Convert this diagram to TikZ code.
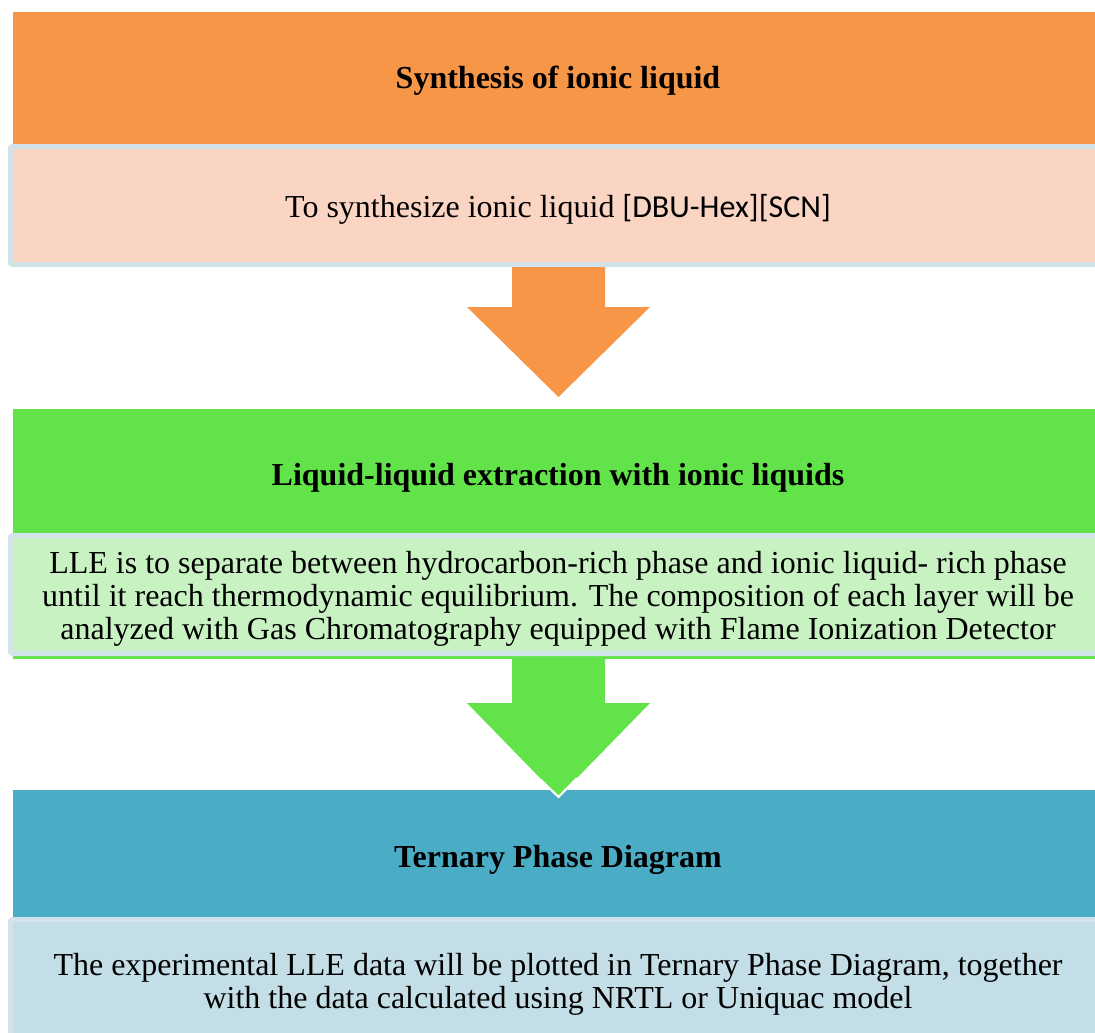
\documentclass[tikz,border=0pt]{standalone}
\usepackage{fontspec}
\setmainfont{Liberation Serif}
\newfontfamily\calibrifont{Carlito}
\definecolor{orangeH}{HTML}{F79646}
\definecolor{peachB}{HTML}{FAD5C3}
\definecolor{greenH}{HTML}{62E34A}
\definecolor{greenB}{HTML}{C9F2C3}
\definecolor{blueH}{HTML}{4BACC6}
\definecolor{blueB}{HTML}{C3DEE6}
\definecolor{edgeB}{HTML}{D2E3E9}
\begin{document}
\begin{tikzpicture}[x=1pt,y=-1pt,
  hdrbox/.style={draw=none,inner sep=0pt,outer sep=0pt},
  bodybox/.style={draw=edgeB,line width=5pt,rounded corners=2pt,inner sep=0pt,outer sep=0pt},
  hdrtext/.style={font=\fontsize{32}{33}\selectfont\bfseries,inner sep=0pt,align=center},
  bodytext/.style={font=\fontsize{32}{33}\selectfont,inner sep=0pt,align=center}
]
\useasboundingbox (0,0) rectangle (1095,1033);
\clip (0,0) rectangle (1095,1033);
\fill[white] (0,0) rectangle (1095,1033);
% stage 1
\node[hdrbox,fill=orangeH,minimum width=1100pt,minimum height=132pt,anchor=north west] (h1) at (13,12) {};
\node[bodybox,fill=peachB,minimum width=1100pt,minimum height=118pt,anchor=north west] (b1) at (10.5,146.5) {};
\node[hdrtext] (t1) at (558,81) {Synthesis of ionic liquid};
\node[bodytext] (d1) at (558,209) {To synthesize ionic liquid {\calibrifont [DBU-Hex][SCN]}};
% arrow 1
\fill[orangeH] (512,267) -- (605,267) -- (605,307) -- (650,307) -- (558.5,397) -- (467,307) -- (512,307) -- cycle;
% stage 2
\node[hdrbox,fill=greenH,minimum width=1100pt,minimum height=250pt,anchor=north west] (h2) at (13,409) {};
\node[bodybox,fill=greenB,minimum width=1100pt,minimum height=118pt,anchor=north west] (b2) at (10.5,535.5) {};
\node[hdrtext] (t2) at (558,478) {Liquid-liquid extraction with ionic liquids};
\node[bodytext] (d2) at (558,599) {LLE is to separate between hydrocarbon-rich phase and ionic liquid- rich phase\\until it reach thermodynamic equilibrium. The composition of each layer will be\\analyzed with Gas Chromatography equipped with Flame Ionization Detector};
% stage 3
\node[hdrbox,fill=blueH,minimum width=1100pt,minimum height=127pt,anchor=north west] (h3) at (13,790) {};
\node[bodybox,fill=blueB,minimum width=1100pt,minimum height=140pt,anchor=north west] (b3) at (10.5,919.5) {};
\node[hdrtext] (t3) at (558,860) {Ternary Phase Diagram};
\node[bodytext] (d3) at (558,984) {The experimental LLE data will be plotted in Ternary Phase Diagram, together\\with the data calculated using NRTL or Uniquac model};
% arrow 2
\fill[greenH] (512,659) -- (605,659) -- (605,703) -- (650,703) -- (558.5,797) -- (467,703) -- (512,703) -- cycle;
\draw[white,line width=2pt,line join=miter] (540,779) -- (558.5,797) -- (577,778);
\end{tikzpicture}
\end{document}
